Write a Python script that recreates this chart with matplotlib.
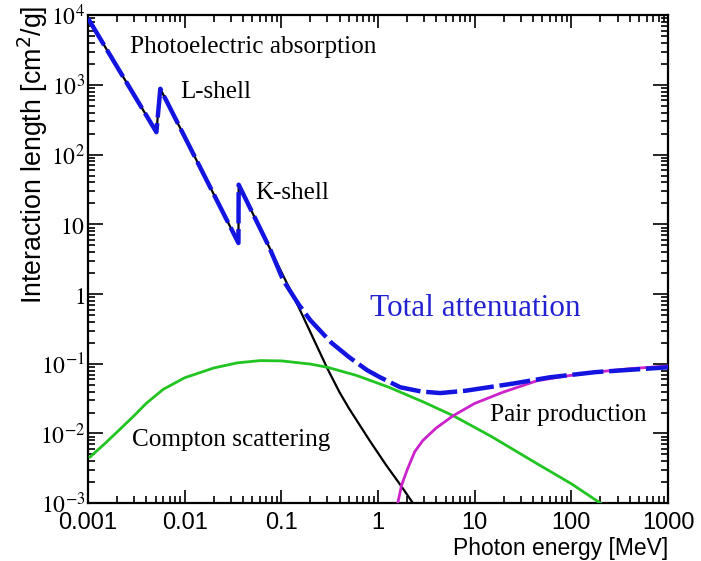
import matplotlib
matplotlib.use("Agg")
import matplotlib.pyplot as plt
from matplotlib.ticker import LogLocator, FixedLocator, FuncFormatter, NullFormatter

plt.rcParams["mathtext.fontset"] = "stix"

# photoelectric absorption (black)
photo_e = [0.001, 0.0051, 0.0056, 0.036, 0.0362, 0.075, 0.156, 0.3, 0.4, 0.5, 0.82, 1.2, 1.77, 2.3]
photo_y = [9000, 210, 880, 5.4, 37, 4.7, 0.59, 0.085, 0.039, 0.023, 0.0079, 0.0036, 0.0017, 0.001]

# total attenuation (blue dashed)
total_e = [0.001, 0.0051, 0.0056, 0.036, 0.0362, 0.075, 0.104, 0.15, 0.2, 0.33, 0.5, 0.77, 1.05,
           1.7, 2.8, 4.4, 8, 25, 60, 180, 1000]
total_y = [9000, 210, 880, 5.4, 37, 4.7, 1.6, 0.72, 0.42, 0.2, 0.125, 0.081, 0.064,
           0.046, 0.04, 0.038, 0.041, 0.052, 0.064, 0.076, 0.089]

# compton scattering (green)
compton_e = [0.00105, 0.0015, 0.002, 0.003, 0.004, 0.006, 0.01, 0.02, 0.035, 0.06, 0.1,
             0.2, 0.3, 0.6, 1.3, 3, 6, 15, 44, 100, 200]
compton_y = [0.0046, 0.0072, 0.0105, 0.018, 0.027, 0.043, 0.063, 0.087, 0.103, 0.111, 0.110,
             0.099, 0.089, 0.068, 0.046, 0.028, 0.018, 0.009, 0.0037, 0.0019, 0.001]

# pair production (magenta)
pair_e = [1.6, 1.75, 2.0, 2.4, 2.9, 4, 6, 10, 19.5, 44, 90, 180, 400, 1000]
pair_y = [0.001, 0.0018, 0.003, 0.0055, 0.0079, 0.012, 0.018, 0.027, 0.039, 0.057, 0.067, 0.076, 0.085, 0.093]

x_ticks = [0.001, 0.01, 0.1, 1, 10, 100, 1000]
x_labels = ["0.001", "0.01", "0.1", "1", "10", "100", "1000"]
y_ticks = [1e-3, 1e-2, 1e-1, 1, 10, 1e2, 1e3, 1e4]
y_labels = [r"$10^{-3}$", r"$10^{-2}$", r"$10^{-1}$", r"$1$", r"$10$",
            r"$10^{2}$", r"$10^{3}$", r"$10^{4}$"]

SERIF = "Liberation Serif"
SANS = "Liberation Sans"

fig = plt.figure(figsize=(7.01, 5.61), dpi=100)
ax = fig.add_axes([0.1255, 0.103, 0.8275, 0.87])

ax.plot(photo_e, photo_y, color="black", lw=1.6, zorder=3)
ax.plot(compton_e, compton_y, color="#22c422", lw=2.0, zorder=3)
ax.plot(pair_e, pair_y, color="#cc22cc", lw=2.0, zorder=3)
ax.plot(total_e, total_y, color="#1414e0", lw=3.2, dashes=(7, 1.3), zorder=4)

ax.set_xscale("log")
ax.set_yscale("log")
ax.set_xlim(1e-3, 1e3)
ax.set_ylim(1e-3, 1e4)

ax.xaxis.set_major_locator(FixedLocator(x_ticks))
ax.xaxis.set_major_formatter(FuncFormatter(lambda v, p: x_labels[p] if p is not None and p < len(x_labels) else ""))
ax.yaxis.set_major_locator(FixedLocator(y_ticks))
ax.yaxis.set_major_formatter(FuncFormatter(lambda v, p: y_labels[p] if p is not None and p < len(y_labels) else ""))
for a in (ax.xaxis, ax.yaxis):
    a.set_minor_locator(LogLocator(base=10, subs=range(2, 10), numticks=20))
    a.set_minor_formatter(NullFormatter())

ax.tick_params(which="both", direction="in", top=True, right=True, width=1.2)
ax.tick_params(axis="y", which="major", length=11)
ax.tick_params(axis="x", which="major", length=9.5)
ax.tick_params(which="minor", length=5)
ax.tick_params(axis="x", labelsize=17, pad=6)
ax.tick_params(axis="y", labelsize=17, pad=2)
for lab in ax.get_xticklabels():
    lab.set_fontfamily(SANS)
for sp in ax.spines.values():
    sp.set_linewidth(1.6)

fig.text(0.953, 0.023, "Photon energy [MeV]", fontfamily=SANS, fontsize=16.5, ha="right", va="center")
fig.text(0.047, 0.99, r"Interaction length [cm$^{2}$/g]", fontfamily=SANS, fontsize=19.3,
         rotation=90, ha="center", va="top", math_fontfamily="dejavusans")

ax.text(0.00272, 3470, "Photoelectric absorption", fontfamily=SERIF, fontsize=18.2, va="center")
ax.text(0.0089, 785, "L-shell", fontfamily=SERIF, fontsize=18, va="center")
ax.text(0.0533, 27.9, "K-shell", fontfamily=SERIF, fontsize=18, va="center")
ax.text(0.824, 0.625, "Total attenuation", fontfamily=SERIF, fontsize=22.5, color="#2222d0", va="center")
ax.text(0.00285, 0.008, "Compton scattering", fontfamily=SERIF, fontsize=18.2, va="center")
ax.text(14.4, 0.0182, "Pair production", fontfamily=SERIF, fontsize=18.2, va="center")

plt.savefig("out.png", dpi=100)
